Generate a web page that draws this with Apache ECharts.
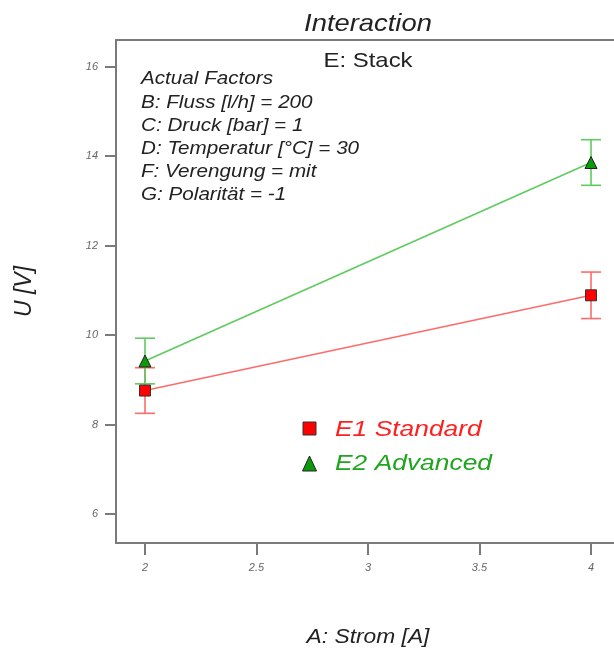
<!DOCTYPE html>
<html>
<head>
<meta charset="utf-8">
<script src="https://cdn.jsdelivr.net/npm/echarts@6/dist/echarts.min.js"></script>
<style>
  html, body { margin: 0; padding: 0; background: #fff; }
  #chart { width: 614px; height: 653px; }
</style>
</head>
<body>
<div id="chart"></div>
<script>
// Factor A levels (Strom [A])
const stromLevels = [2, 4];
// Predicted U [V] for each stack type
const e1Standard = [8.76, 10.89];
const e2Advanced = [9.42, 13.86];
// Half-width of the error bars
const e1Error = [0.51, 0.52];
const e2Error = [0.51, 0.51];
// Axis tick values
const xTicks = [2, 2.5, 3, 3.5, 4];
const yTicks = [6, 8, 10, 12, 14, 16];
// Annotation text
const factorLines = [
  'Actual Factors',
  'B: Fluss [l/h] = 200',
  'C: Druck [bar] = 1',
  'D: Temperatur [°C] = 30',
  'F: Verengung = mit',
  'G: Polarität = -1'
];
const seriesNames = ['E1 Standard', 'E2 Advanced'];

const FONT = '"Liberation Sans", Arial, sans-serif';
const AXIS_GRAY = '#7a7a7a';
const WIDE = 1.14; // horizontal stretch of the lettering

function pairs(xs, ys) { return xs.map((x, i) => [x, ys[i]]); }
function errData(xs, ys, es) { return xs.map((x, i) => [x, ys[i] - es[i], ys[i] + es[i]]); }

function errorBars(color) {
  return function (params, api) {
    const x = api.value(0);
    const lo = api.coord([x, api.value(1)]);
    const hi = api.coord([x, api.value(2)]);
    const half = 10;
    const style = { stroke: color, lineWidth: 1.6 };
    return {
      type: 'group',
      children: [
        { type: 'line', shape: { x1: lo[0], y1: lo[1], x2: hi[0], y2: hi[1] }, style },
        { type: 'line', shape: { x1: lo[0] - half, y1: lo[1], x2: lo[0] + half, y2: lo[1] }, style },
        { type: 'line', shape: { x1: hi[0] - half, y1: hi[1], x2: hi[0] + half, y2: hi[1] }, style }
      ]
    };
  };
}

function label(text, x, y, font, fill, align, stretch) {
  return {
    type: 'text', x: x, y: y, scaleX: stretch || WIDE,
    style: { text: text, align: align || 'center', verticalAlign: 'middle', font: font, fill: fill }
  };
}

const chart = echarts.init(document.getElementById('chart'), null, { renderer: 'canvas' });

const X_MIN = 1.87, X_MAX = 4.103;

chart.setOption({
  animation: false,
  backgroundColor: '#ffffff',
  grid: { left: 116, top: 40, right: 0, bottom: 110, show: false },
  xAxis: [
    {
      type: 'value', min: X_MIN, max: X_MAX, position: 'bottom',
      axisLine: { show: true, lineStyle: { color: AXIS_GRAY, width: 2 } },
      axisTick: { show: true, length: 12, customValues: xTicks, lineStyle: { color: AXIS_GRAY, width: 2 } },
      axisLabel: { customValues: xTicks, margin: 19, fontFamily: FONT, fontStyle: 'italic', fontSize: 11, color: '#666' },
      splitLine: { show: false }
    },
    {
      // frame line along the top of the plot
      type: 'value', min: X_MIN, max: X_MAX, position: 'top',
      axisLine: { show: true, onZero: false, lineStyle: { color: AXIS_GRAY, width: 2 } },
      axisTick: { show: false }, axisLabel: { show: false }, splitLine: { show: false }
    }
  ],
  yAxis: {
    type: 'value', min: 5.35, max: 16.6,
    name: 'U [V]', nameLocation: 'middle', nameGap: 80, nameRotate: 90,
    nameTextStyle: { fontFamily: FONT, fontStyle: 'italic', fontSize: 23, color: '#222' },
    axisLine: { show: true, lineStyle: { color: AXIS_GRAY, width: 2 } },
    axisTick: { show: true, length: 11, customValues: yTicks, lineStyle: { color: AXIS_GRAY, width: 2 } },
    axisLabel: { customValues: yTicks, margin: 18, fontFamily: FONT, fontStyle: 'italic', fontSize: 11, color: '#666' },
    splitLine: { show: false }
  },
  graphic: [
    label('Interaction', 368, 24, 'italic 24px ' + FONT, '#222'),
    label('E: Stack', 368, 61, '21px ' + FONT, '#222'),
    label('A: Strom [A]', 368, 637, 'italic 20px ' + FONT, '#222'),
    {
      type: 'text', x: 141, y: 68, scaleX: 1.18,
      style: { text: factorLines.join('\n'), align: 'left', verticalAlign: 'top', lineHeight: 23.2, font: 'italic 17.5px ' + FONT, fill: '#222' }
    },
    // legend
    { type: 'rect', shape: { x: 303, y: 422, width: 13, height: 13 }, style: { fill: '#ff0000', stroke: '#333', lineWidth: 1 } },
    { type: 'polygon', shape: { points: [[309.5, 456], [316.5, 471], [302.5, 471]] }, style: { fill: '#0a9a0a', stroke: '#222', lineWidth: 1 } },
    label(seriesNames[0], 335, 430, 'italic 22px ' + FONT, '#ff2020', 'left', 1.2),
    label(seriesNames[1], 335, 464, 'italic 22px ' + FONT, '#1fa51f', 'left', 1.2)
  ],
  series: [
    {
      name: seriesNames[0] + ' error', type: 'custom', renderItem: errorBars('#ff6b6b'),
      data: errData(stromLevels, e1Standard, e1Error), z: 2
    },
    {
      name: seriesNames[1] + ' error', type: 'custom', renderItem: errorBars('#5fcb5f'),
      data: errData(stromLevels, e2Advanced, e2Error), z: 2
    },
    {
      name: seriesNames[0], type: 'line', data: pairs(stromLevels, e1Standard),
      symbol: 'rect', symbolSize: 11,
      lineStyle: { color: '#ff6b6b', width: 1.6 },
      itemStyle: { color: '#ff0000', borderColor: '#333', borderWidth: 1 }, z: 3
    },
    {
      name: seriesNames[1], type: 'line', data: pairs(stromLevels, e2Advanced),
      symbol: 'triangle', symbolSize: 12,
      lineStyle: { color: '#5fcb5f', width: 1.6 },
      itemStyle: { color: '#0a9a0a', borderColor: '#222', borderWidth: 1 }, z: 3
    }
  ]
});
</script>
</body>
</html>
